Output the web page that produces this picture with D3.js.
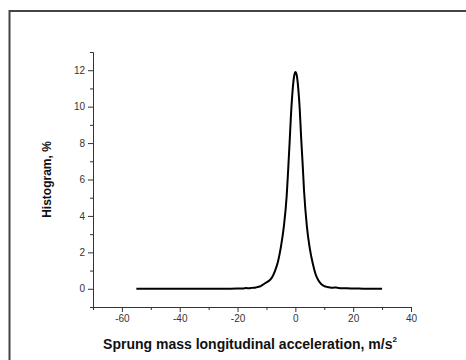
<!DOCTYPE html>
<html>
<head>
<meta charset="utf-8">
<script src="https://cdn.jsdelivr.net/npm/d3@7"></script>
<style>
  body { margin: 0; background: #fff; }
  svg { display: block; font-family: "Liberation Sans", Arial, sans-serif; }
</style>
</head>
<body>
<script>
// acceleration, m/s^2
var accel = [-55, -50, -45, -40, -35, -30, -25, -20, -18, -17, -16, -15, -14, -13, -12, -11, -10, -9, -8, -7, -6, -5, -4, -3, -2.5, -2, -1.5, -1, -0.5, 0,
             0.5, 1, 1.5, 2, 2.5, 3, 4, 5, 6, 7, 8, 9, 10, 11, 12, 13, 14, 15, 16, 18, 20, 22, 25, 28, 30];
// histogram, %
var histo = [0, 0, 0, 0, 0, 0, 0, 0.01, 0.02, 0.04, 0.03, 0.05, 0.06, 0.1, 0.15, 0.25, 0.35, 0.45, 0.65, 1.0, 1.5, 2.3, 3.4, 5.1, 6.5, 8.0, 9.6, 10.8, 11.6, 11.9,
             11.7, 11.0, 9.9, 8.3, 6.9, 5.4, 3.4, 2.2, 1.4, 0.8, 0.45, 0.25, 0.15, 0.1, 0.07, 0.06, 0.07, 0.04, 0.03, 0.03, 0.01, 0.01, 0, 0, 0];
var xTicks = [-60, -40, -20, 0, 20, 40];
var yTicks = [0, 2, 4, 6, 8, 10, 12];

var data = accel.map((a, i) => ({x: a, y: histo[i]}));

var width = 466, height = 360;

var x = d3.scaleLinear().domain([-70, 40]).range([93, 411]);
var y = d3.scaleLinear().domain([-1, 13]).range([307, 52]);

const svg = d3.select("body").append("svg")
    .attr("width", width)
    .attr("height", height);

// frame
svg.append("path")
    .attr("d", "M9.5,380 L9.5,11 L480,11")
    .attr("fill", "none")
    .attr("stroke", "#444")
    .attr("stroke-width", 2);

var xAxis = g => g
    .attr("transform", `translate(0,${y(-1)})`)
    .call(d3.axisBottom(x).tickValues(xTicks).tickSize(5).tickSizeOuter(0).tickPadding(3).tickFormat(d => String(d)));

var xMinor = g => g
    .attr("transform", `translate(0,${y(-1)})`)
    .call(d3.axisBottom(x).tickValues(d3.range(-70, 40, 20)).tickSize(3).tickSizeOuter(0).tickFormat(""));

var yAxis = g => g
    .attr("transform", `translate(${x(-70)},0)`)
    .call(d3.axisLeft(y).tickValues(yTicks).tickSize(5).tickSizeOuter(0).tickPadding(3).tickFormat(d => String(d)));

var yMinor = g => g
    .attr("transform", `translate(${x(-70)},0)`)
    .call(d3.axisLeft(y).tickValues(d3.range(-1, 14, 2)).tickSize(3).tickSizeOuter(0).tickFormat(""));

svg.append("g").call(xMinor);
svg.append("g").call(yMinor);
svg.append("g").call(xAxis);
svg.append("g").call(yAxis);

svg.selectAll(".domain, .tick line").attr("stroke", "#333");
svg.selectAll(".tick text")
    .attr("fill", "#333")
    .style("font-size", "10px")
    .style("font-family", "Liberation Sans, Arial, sans-serif");

// curve
svg.append("path")
    .datum(data)
    .attr("fill", "none")
    .attr("stroke", "#000")
    .attr("stroke-width", 2)
    .attr("stroke-linejoin", "round")
    .attr("d", d3.line().x(d => x(d.x)).y(d => y(d.y)).curve(d3.curveMonotoneX));

// axis titles
var xt = svg.append("text")
    .attr("x", 250)
    .attr("y", 349)
    .attr("text-anchor", "middle")
    .style("font-size", "14px")
    .style("font-weight", "bold")
    .attr("fill", "#111");
xt.append("tspan").text("Sprung mass longitudinal acceleration, m/s");
xt.append("tspan").attr("dy", -7).style("font-size", "8px").text("2");

svg.append("text")
    .attr("transform", `translate(51,${(y(-1) + y(13)) / 2}) rotate(-90)`)
    .attr("text-anchor", "middle")
    .style("font-size", "12px")
    .style("font-weight", "bold")
    .attr("fill", "#111")
    .text("Histogram, %");
</script>
</body>
</html>
